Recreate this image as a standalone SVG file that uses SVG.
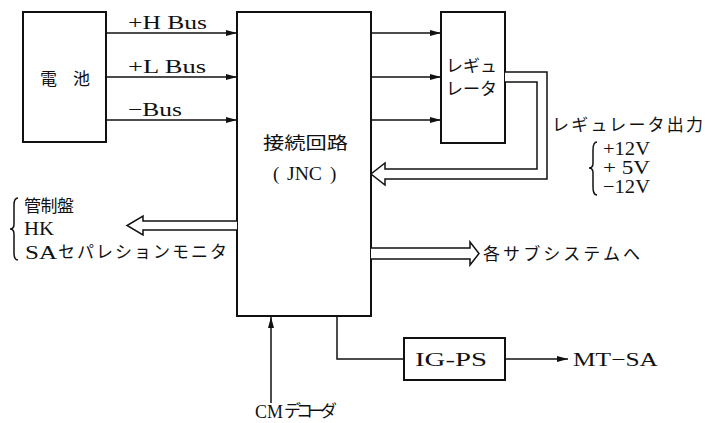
<svg xmlns="http://www.w3.org/2000/svg" width="705" height="423" viewBox="0 0 705 423">
<defs>
<style>
.box{fill:#fff;stroke:#111;stroke-width:2}
.ln{fill:none;stroke:#111;stroke-width:1.5}
.dbl{fill:#fff;stroke:#111;stroke-width:1.5;stroke-linejoin:miter}
.t{font-family:"Liberation Serif","Noto Sans CJK JP",serif;font-size:19px;fill:#111}
.j{font-family:"Noto Sans CJK JP","Liberation Serif",sans-serif;font-size:17px;fill:#111}
</style>
<marker id="ah" markerUnits="userSpaceOnUse" markerWidth="12" markerHeight="8" refX="11" refY="4" orient="auto">
<path d="M0,1 L11,4 L0,7 z" fill="#111"/>
</marker>
</defs>
<rect width="705" height="423" fill="#fff"/>

<g id="battery">
<rect class="box" x="23" y="12" width="83" height="130"/>
<text class="j" x="40" y="85" font-size="20" textLength="50" lengthAdjust="spacing">電池</text>
</g>

<g id="jnc">
<rect class="box" x="237" y="12" width="134" height="304"/>
<text class="j" x="263" y="149" font-size="20" textLength="85" lengthAdjust="spacingAndGlyphs">接続回路</text>
<text class="t" x="273" y="180">(</text>
<text class="t" x="287" y="180" textLength="35" lengthAdjust="spacingAndGlyphs">JNC</text>
<text class="t" x="330" y="180">)</text>
</g>

<g id="regulator">
<rect class="box" x="441" y="12" width="64" height="131"/>
<text class="j" x="446" y="72" font-size="15" textLength="51" lengthAdjust="spacing">レギュ</text>
<text class="j" x="446" y="95" font-size="15" textLength="51" lengthAdjust="spacing">レータ</text>
</g>

<g id="igps">
<rect class="box" x="404" y="338" width="101" height="42"/>
<text class="t" x="415" y="366" font-size="20" textLength="72" lengthAdjust="spacingAndGlyphs">IG-PS</text>
</g>

<g id="connectors">
<line class="ln" x1="106" y1="33" x2="237" y2="33" marker-end="url(#ah)"/>
<line class="ln" x1="106" y1="77" x2="237" y2="77" marker-end="url(#ah)"/>
<line class="ln" x1="106" y1="120" x2="237" y2="120" marker-end="url(#ah)"/>
<line class="ln" x1="371" y1="33" x2="441" y2="33" marker-end="url(#ah)"/>
<line class="ln" x1="371" y1="77" x2="441" y2="77" marker-end="url(#ah)"/>
<line class="ln" x1="371" y1="120" x2="441" y2="120" marker-end="url(#ah)"/>
<path class="dbl" d="M505,72 H547 V179 H385 V185 L371,174 L385,163 V169 H537 V82 H505"/>
<path class="dbl" d="M237,221 H143 V216 L127,225.5 L143,235 V230 H237"/>
<path class="dbl" d="M371,248 H470 V242 L479,253.5 L470,265 V259 H371"/>
<line class="ln" x1="271" y1="403" x2="271" y2="317" marker-end="url(#ah)"/>
<path class="ln" d="M337,316 V359 H404"/>
<line class="ln" x1="505" y1="359" x2="568" y2="359" marker-end="url(#ah)"/>
</g>

<g id="labels">
<text class="t" x="128" y="29" textLength="79" lengthAdjust="spacingAndGlyphs">+H Bus</text>
<text class="t" x="128" y="73" textLength="78" lengthAdjust="spacingAndGlyphs">+L Bus</text>
<text class="t" x="128" y="116" textLength="54" lengthAdjust="spacingAndGlyphs">−Bus</text>
<text class="j" x="552" y="131" font-size="18" textLength="151" lengthAdjust="spacing">レギュレータ出力</text>
<path class="ln" stroke-width="1" d="M597,142 Q593,142 593,150 V163 Q593,168 589,168 Q593,168 593,173 V187 Q593,195 597,195"/>
<text class="t" x="603" y="155" font-size="18" textLength="47" lengthAdjust="spacingAndGlyphs">+12V</text>
<text class="t" x="603" y="174" font-size="18" textLength="47" lengthAdjust="spacingAndGlyphs">+ 5V</text>
<text class="t" x="603" y="193" font-size="18" textLength="47" lengthAdjust="spacingAndGlyphs">−12V</text>
<path class="ln" stroke-width="1" d="M18,198 Q14,198 14,205 V224 Q14,229 10,229 Q14,229 14,234 V253 Q14,260 18,260"/>
<text class="j" x="24" y="212" textLength="50" lengthAdjust="spacing">管制盤</text>
<text class="t" x="24" y="235" textLength="30" lengthAdjust="spacingAndGlyphs">HK</text>
<text class="t" x="25" y="259" textLength="32" lengthAdjust="spacingAndGlyphs">SA</text>
<text class="j" x="58" y="258" textLength="169" lengthAdjust="spacing">セパレションモニタ</text>
<text class="j" x="483" y="260" font-size="18" textLength="157" lengthAdjust="spacing">各サブシステムへ</text>
<text class="t" x="573" y="366" font-size="20" textLength="85" lengthAdjust="spacingAndGlyphs">MT−SA</text>
<text class="t" x="255" y="418" textLength="28" lengthAdjust="spacingAndGlyphs">CM</text>
<text class="j" x="284" y="417" font-size="16" textLength="53" lengthAdjust="spacing">デコーダ</text>
</g>
</svg>
